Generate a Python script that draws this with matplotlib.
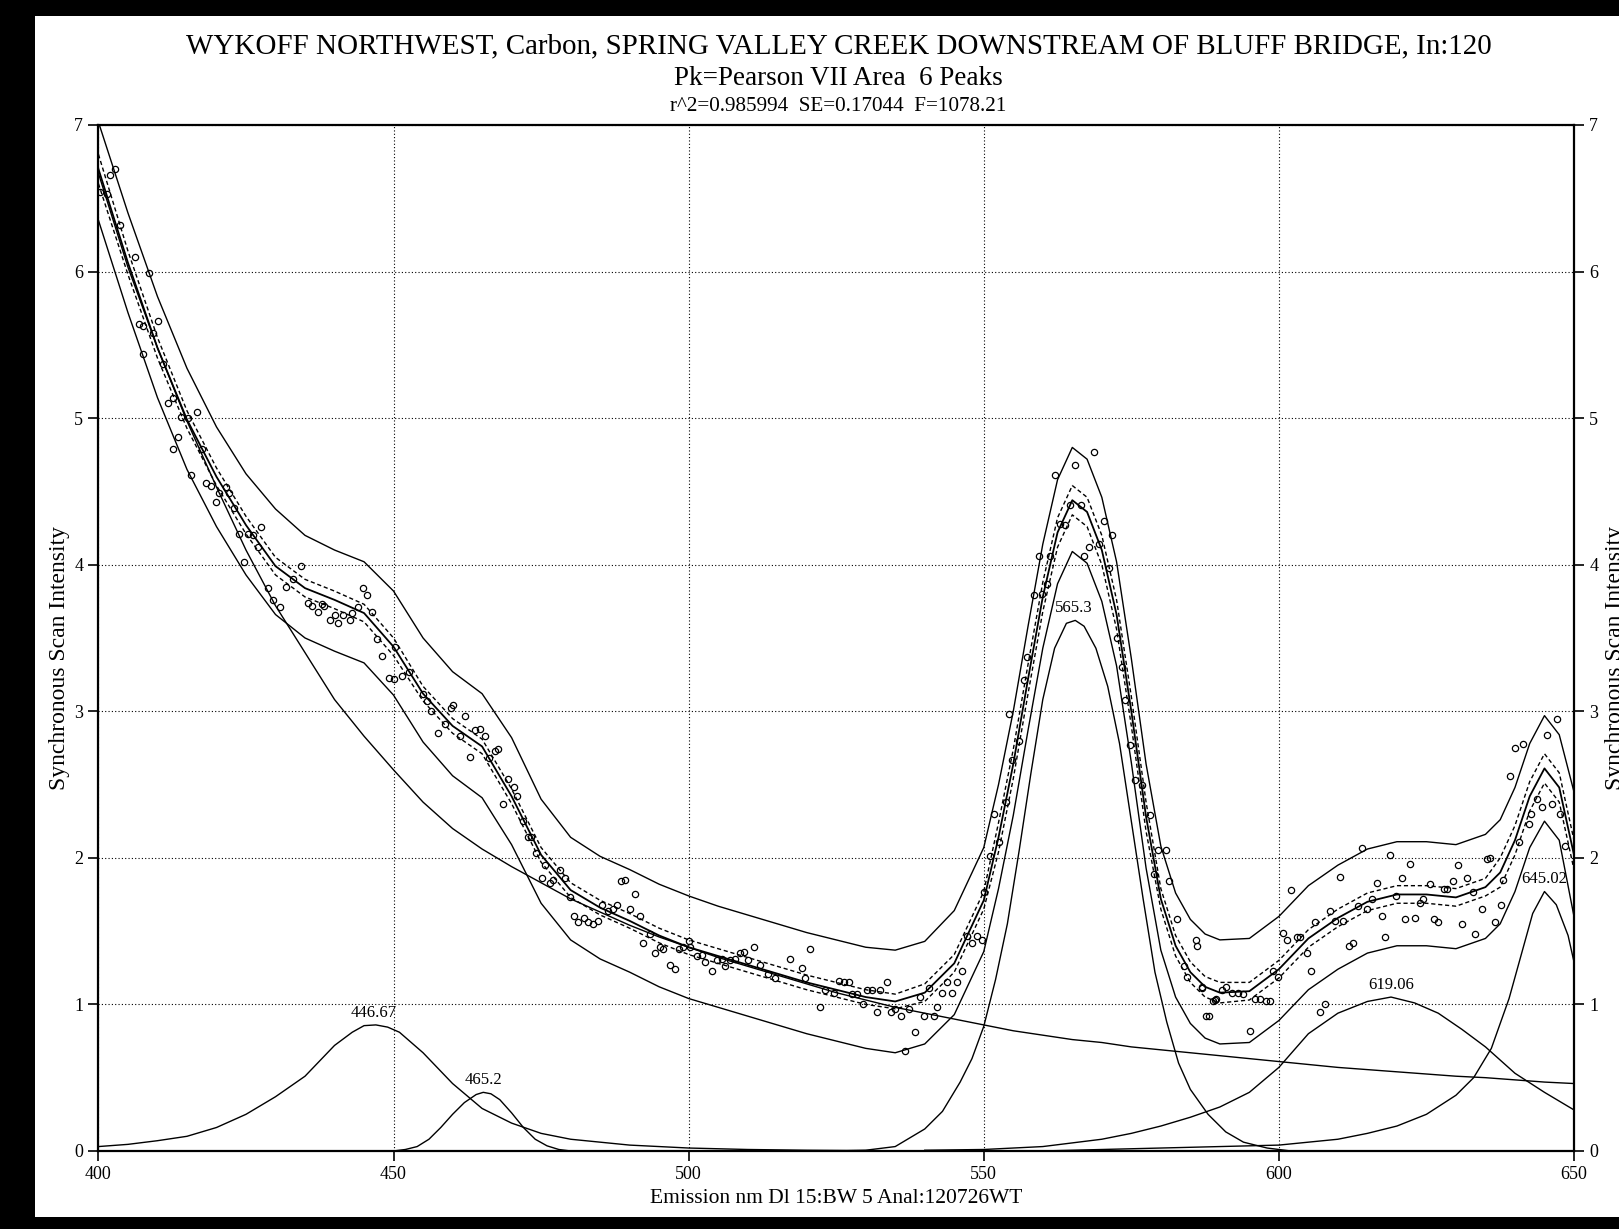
import matplotlib
matplotlib.use('Agg')
import matplotlib.pyplot as plt
from matplotlib.patches import Rectangle

plt.rcParams['font.family'] = ['Liberation Serif', 'DejaVu Serif']

# ---- values ----
TITLE = 'WYKOFF NORTHWEST, Carbon, SPRING VALLEY CREEK DOWNSTREAM OF BLUFF BRIDGE, In:120'
SUBTITLE = 'Pk=Pearson VII Area  6 Peaks'
STATS = 'r^2=0.985994  SE=0.17044  F=1078.21'
XLABEL = 'Emission nm Dl 15:BW 5 Anal:120726WT'
YLABEL = 'Synchronous Scan Intensity'

X_TICKS = [400, 450, 500, 550, 600, 650]
Y_TICKS = [0, 1, 2, 3, 4, 5, 6, 7]

# measured scan (open markers)
PTS_NM = [
    402.8, 402.0, 400.3, 401.5, 403.7, 406.2, 408.5, 406.8, 407.6, 409.3, 410.1, 407.6, 411.0,
    412.7, 411.8, 414.0, 415.2, 416.7, 413.5, 412.7, 417.6, 415.7, 418.2, 419.1, 420.5, 421.6,
    422.2, 419.9, 423.0, 423.9, 425.3, 426.2, 427.6, 427.0, 424.7, 428.7, 429.6, 430.7, 431.8,
    433.0, 434.4, 435.5, 436.1, 437.2, 437.8, 438.3, 439.2, 440.0, 440.6, 441.5, 442.6, 442.9,
    444.0, 444.9, 445.5, 446.3, 447.2, 448.1, 450.3, 449.2, 450.0, 451.4, 452.6,
    455.0, 455.6, 456.4, 457.6, 458.7, 460.1, 459.8, 461.3, 462.1, 463.0, 463.8, 464.6, 465.5,
    466.1, 467.2, 467.7, 469.4, 470.4, 471.0, 468.5, 471.9, 472.8, 473.3, 474.2, 475.7, 478.2,
    475.1, 476.5, 477.1, 479.0, 479.9, 480.5, 481.3, 482.2, 483.0, 483.8, 484.7, 485.3, 486.4,
    487.2, 487.8, 488.6, 489.2, 490.1, 490.9, 491.8, 492.3, 493.5, 494.3, 495.1, 495.7, 496.8,
    497.7, 498.3, 499.1, 500.0, 500.2, 501.4, 502.2, 502.8, 503.9, 504.8, 505.6, 506.2, 507.0,
    507.9, 508.7, 509.3, 510.1, 511.0, 512.1, 513.5, 514.6, 517.2, 519.2, 519.7, 520.6,
    522.3, 523.1, 524.6, 525.4, 526.3, 527.1, 527.7, 528.5, 529.6, 530.2, 531.1, 531.9, 532.5,
    533.6, 534.2, 535.0, 535.9, 536.7, 537.3, 538.4, 539.2, 539.8, 540.7, 541.5, 542.1, 542.9,
    543.8, 544.6, 545.5, 546.3, 547.2, 548.0, 548.9, 549.7, 550.0, 551.1, 551.7, 552.5, 553.7,
    554.8, 555.9, 554.2, 556.8, 557.3, 558.5, 559.3, 559.9, 560.7, 561.3, 562.1, 563.0, 563.8,
    564.6, 565.5, 566.4, 566.9, 567.8, 568.6, 569.5, 570.3, 571.2, 571.7, 572.6, 573.4, 574.0,
    574.8, 575.7, 576.8, 578.2, 579.6, 580.8, 578.8, 581.3, 582.7, 585.9, 586.1, 583.9, 584.4,
    587.0, 588.1, 589.2,
    586.9, 587.7, 588.9, 589.4, 590.3, 591.1, 592.0, 593.1, 594.0, 595.1, 595.9, 596.8, 597.9,
    598.5, 599.0, 599.9, 600.7, 601.3, 602.1, 603.0, 603.6, 604.7, 605.5, 606.1, 606.9, 607.8,
    608.6, 609.5, 610.3, 610.9, 611.8, 612.6, 613.4, 614.0, 614.9, 615.7, 616.6, 617.4, 618.0,
    618.8, 619.9, 620.8, 621.4, 622.2, 623.1, 623.9, 624.5, 625.6, 626.2, 627.0, 627.9, 628.4,
    629.5, 630.4, 631.0, 631.8, 632.9, 633.2, 634.4, 635.2, 635.8, 636.6, 637.7, 638.0, 639.2,
    640.0, 640.6, 641.4, 642.3, 642.8, 643.7, 644.5, 645.4, 646.2, 647.1, 647.6, 648.5,
]
PTS_Y = [
    6.70, 6.66, 6.54, 6.53, 6.32, 6.10, 5.99, 5.64, 5.63, 5.58, 5.66, 5.44, 5.37,
    5.14, 5.10, 5.01, 5.00, 5.04, 4.87, 4.79, 4.79, 4.61, 4.56, 4.54, 4.49, 4.53,
    4.49, 4.43, 4.39, 4.21, 4.21, 4.20, 4.26, 4.12, 4.02, 3.84, 3.76, 3.71, 3.85,
    3.90, 3.99, 3.74, 3.72, 3.68, 3.73, 3.72, 3.62, 3.66, 3.60, 3.66, 3.62, 3.67,
    3.71, 3.84, 3.79, 3.68, 3.49, 3.38, 3.44, 3.23, 3.22, 3.24, 3.27,
    3.12, 3.07, 3.00, 2.85, 2.91, 3.04, 3.02, 2.83, 2.97, 2.69, 2.87, 2.88, 2.83,
    2.68, 2.73, 2.74, 2.54, 2.48, 2.42, 2.37, 2.25, 2.14, 2.14, 2.03, 1.95, 1.92,
    1.86, 1.83, 1.85, 1.86, 1.73, 1.60, 1.56, 1.59, 1.56, 1.55, 1.57, 1.68, 1.64,
    1.65, 1.68, 1.84, 1.85, 1.65, 1.75, 1.60, 1.42, 1.48, 1.35, 1.39, 1.38, 1.27,
    1.24, 1.38, 1.39, 1.43, 1.39, 1.33, 1.34, 1.29, 1.23, 1.30, 1.31, 1.26, 1.30,
    1.31, 1.35, 1.36, 1.30, 1.39, 1.27, 1.21, 1.18, 1.31, 1.25, 1.18, 1.38,
    0.98, 1.10, 1.08, 1.16, 1.15, 1.15, 1.07, 1.07, 1.00, 1.10, 1.10, 0.95, 1.10,
    1.15, 0.95, 0.97, 0.92, 0.68, 0.97, 0.81, 1.05, 0.92, 1.11, 0.92, 0.98, 1.08,
    1.15, 1.08, 1.15, 1.23, 1.47, 1.42, 1.47, 1.44, 1.77, 2.01, 2.30, 2.11, 2.38,
    2.67, 2.80, 2.98, 3.21, 3.37, 3.79, 4.06, 3.80, 3.87, 4.06, 4.61, 4.28, 4.27,
    4.41, 4.68, 4.41, 4.06, 4.12, 4.77, 4.14, 4.30, 3.98, 4.20, 3.50, 3.30, 3.08,
    2.77, 2.53, 2.50, 2.29, 2.05, 2.05, 1.89, 1.84, 1.58, 1.44, 1.40, 1.26, 1.19,
    1.11, 0.92, 1.03,
    1.12, 0.92, 1.02, 1.04, 1.10, 1.12, 1.08, 1.08, 1.07, 0.82, 1.04, 1.04, 1.02,
    1.02, 1.23, 1.19, 1.49, 1.44, 1.78, 1.46, 1.46, 1.35, 1.23, 1.56, 0.95, 1.00,
    1.64, 1.57, 1.87, 1.57, 1.40, 1.42, 1.67, 2.07, 1.65, 1.72, 1.83, 1.60, 1.46,
    2.02, 1.74, 1.86, 1.58, 1.96, 1.59, 1.69, 1.72, 1.82, 1.58, 1.56, 1.79, 1.79,
    1.84, 1.95, 1.55, 1.86, 1.77, 1.48, 1.65, 1.99, 2.00, 1.56, 1.68, 1.85, 2.56,
    2.75, 2.11, 2.78, 2.23, 2.30, 2.40, 2.35, 2.84, 2.37, 2.95, 2.30, 2.08,
]

# fitted curve and its bands
FIT_NM = [400, 405, 410, 415, 420, 425, 430, 435, 440, 445, 450, 455, 460, 465, 470, 475,
          480, 485, 490, 495, 500, 505, 510, 515, 520, 525, 530, 535, 540, 545, 550,
          552.5, 555, 557.5, 560, 562.5, 565, 567.5, 570, 572.5, 575, 577.5, 580, 582.5,
          585, 587.5, 590, 595, 600, 605, 610, 615, 620, 625, 630, 635,
          637.5, 640, 642.5, 645, 647.5, 650]
FIT = [6.70, 6.06, 5.48, 4.99, 4.60, 4.27, 3.99, 3.84, 3.76, 3.67, 3.44, 3.12, 2.90, 2.76,
       2.42, 2.02, 1.78, 1.66, 1.57, 1.47, 1.39, 1.33, 1.27, 1.21, 1.15, 1.10, 1.05, 1.02,
       1.08, 1.28, 1.71,
       2.14, 2.64, 3.22, 3.78, 4.22, 4.44, 4.36, 4.10, 3.66, 3.00, 2.28, 1.72, 1.40, 1.22,
       1.12, 1.08, 1.09, 1.24, 1.45, 1.59, 1.70, 1.75, 1.75, 1.73, 1.80,
       1.90, 2.12, 2.42, 2.61, 2.48, 2.02]
PRED_UP = [7.02, 6.40, 5.83, 5.34, 4.94, 4.62, 4.38, 4.20, 4.10, 4.02, 3.82, 3.50, 3.27, 3.12,
           2.82, 2.40, 2.14, 2.01, 1.92, 1.82, 1.74, 1.67, 1.61, 1.55, 1.49, 1.44, 1.39, 1.37,
           1.43, 1.64, 2.07,
           2.50, 3.00, 3.58, 4.14, 4.58, 4.80, 4.72, 4.46, 4.02, 3.36, 2.64, 2.08, 1.76, 1.58,
           1.48, 1.44, 1.45, 1.60, 1.81, 1.95, 2.06, 2.11, 2.11, 2.09, 2.16,
           2.26, 2.48, 2.78, 2.97, 2.84, 2.45]
PRED_LO = [6.35, 5.72, 5.14, 4.65, 4.26, 3.93, 3.66, 3.50, 3.41, 3.33, 3.11, 2.79, 2.56, 2.41,
           2.09, 1.69, 1.44, 1.31, 1.22, 1.12, 1.04, 0.98, 0.92, 0.86, 0.80, 0.75, 0.70, 0.67,
           0.73, 0.93, 1.36,
           1.79, 2.29, 2.87, 3.43, 3.87, 4.09, 4.01, 3.75, 3.31, 2.65, 1.93, 1.37, 1.05, 0.87,
           0.77, 0.73, 0.74, 0.89, 1.10, 1.24, 1.35, 1.40, 1.40, 1.38, 1.45,
           1.55, 1.77, 2.07, 2.25, 2.12, 1.60]
CONF_UP = [6.80, 6.14, 5.55, 5.05, 4.66, 4.33, 4.05, 3.90, 3.82, 3.73, 3.50, 3.17, 2.95, 2.81,
           2.47, 2.07, 1.83, 1.71, 1.62, 1.52, 1.44, 1.38, 1.32, 1.26, 1.20, 1.15, 1.10, 1.07,
           1.14, 1.34, 1.77,
           2.24, 2.74, 3.32, 3.88, 4.32, 4.54, 4.46, 4.20, 3.76, 3.10, 2.38, 1.79, 1.47, 1.29,
           1.19, 1.15, 1.15, 1.30, 1.51, 1.65, 1.76, 1.81, 1.81, 1.79, 1.86,
           2.00, 2.22, 2.52, 2.71, 2.58, 2.12]
CONF_LO = [6.60, 5.98, 5.41, 4.93, 4.54, 4.21, 3.93, 3.78, 3.70, 3.61, 3.38, 3.07, 2.85, 2.71,
           2.37, 1.97, 1.73, 1.61, 1.52, 1.42, 1.34, 1.28, 1.22, 1.16, 1.10, 1.05, 1.00, 0.97,
           1.02, 1.22, 1.65,
           2.04, 2.54, 3.12, 3.68, 4.12, 4.34, 4.26, 4.00, 3.56, 2.90, 2.18, 1.65, 1.33, 1.15,
           1.05, 1.01, 1.03, 1.18, 1.39, 1.53, 1.64, 1.69, 1.69, 1.67, 1.74,
           1.80, 2.02, 2.32, 2.51, 2.38, 1.92]

# decaying background
BASE_NM = list(range(400, 651, 5))
BASE = [6.67, 6.03, 5.48, 4.98, 4.53, 4.10, 3.72, 3.40, 3.08, 2.83, 2.60, 2.38, 2.20, 2.06,
        1.94, 1.83, 1.72, 1.63, 1.54, 1.46, 1.39, 1.32, 1.26, 1.20, 1.14, 1.08, 1.03, 0.98,
        0.94, 0.90, 0.86, 0.82, 0.79, 0.76, 0.74, 0.71, 0.69, 0.67, 0.65, 0.63, 0.61, 0.59,
        0.57, 0.555, 0.54, 0.525, 0.51, 0.50, 0.485, 0.47, 0.46]

# peak components
P446_NM = [400, 405, 410, 415, 420, 425, 430, 435, 440, 443, 445, 447, 449, 451, 455, 460,
           465, 470, 475, 480, 490, 500, 510, 520, 540, 560]
P446_Y = [0.03, 0.045, 0.07, 0.10, 0.16, 0.25, 0.37, 0.51, 0.72, 0.81, 0.855, 0.86, 0.845,
          0.81, 0.67, 0.46, 0.29, 0.19, 0.12, 0.08, 0.04, 0.02, 0.01, 0.005, 0.0, 0.0]
P465_NM = [450, 452, 454, 456, 458, 460, 462, 464, 465.2, 466.5, 468, 470, 472, 474, 476, 478, 480]
P465_Y = [0.0, 0.01, 0.03, 0.08, 0.16, 0.25, 0.33, 0.385, 0.40, 0.39, 0.35, 0.26, 0.16, 0.08,
          0.035, 0.01, 0.0]
P565_NM = [525, 530, 535, 540, 543, 546, 548, 550, 552, 554, 556, 558, 560, 562, 564, 565.5,
           567, 569, 571, 573, 575, 577, 579, 581, 583, 585, 588, 591, 594, 598, 602]
P565_Y = [0.0, 0.005, 0.03, 0.15, 0.27, 0.47, 0.63, 0.85, 1.17, 1.55, 2.05, 2.58, 3.08, 3.43,
          3.60, 3.62, 3.58, 3.43, 3.17, 2.78, 2.25, 1.72, 1.22, 0.88, 0.60, 0.42, 0.25, 0.13,
          0.06, 0.02, 0.0]
P619_NM = [540, 550, 560, 570, 575, 580, 585, 590, 595, 600, 605, 610, 615, 619, 623, 627,
           631, 635, 640, 645, 650]
P619_Y = [0.005, 0.01, 0.03, 0.08, 0.12, 0.17, 0.23, 0.30, 0.40, 0.57, 0.80, 0.94, 1.02, 1.05,
          1.01, 0.94, 0.83, 0.71, 0.53, 0.40, 0.28]
P645_NM = [560, 570, 580, 590, 600, 605, 610, 615, 620, 625, 630, 633, 636, 639, 641, 643,
           645, 647, 649, 650]
P645_Y = [0.0, 0.01, 0.02, 0.03, 0.04, 0.06, 0.08, 0.12, 0.17, 0.25, 0.38, 0.50, 0.70, 1.04,
          1.33, 1.62, 1.77, 1.68, 1.47, 1.29]

PEAK_LABELS = ['446.67', '465.2', '565.3', '619.06', '645.02']
PEAK_POS = [446.67, 465.2, 565.3, 619.06, 645.02]
PEAK_TOP = [0.86, 0.40, 3.62, 1.05, 1.77]

# ---- figure ----
fig = plt.figure(figsize=(16.19, 12.29), dpi=100, facecolor='black')
fig.patches.append(Rectangle((35 / 1619, 12 / 1229), 1584 / 1619, 1201 / 1229,
                             transform=fig.transFigure, facecolor='white',
                             edgecolor='none', zorder=-10))
ax = fig.add_axes([0.0608, 0.0635, 0.9114, 0.8348])
ax.set_facecolor('white')

k = 'black'
ax.plot(PTS_NM, PTS_Y, 'o', mfc='none', mec=k, ms=4.5, mew=0.9, zorder=3)
ax.plot(FIT_NM, FIT, color=k, lw=1.3)
ax.plot(FIT_NM, PRED_UP, color=k, lw=1.0)
ax.plot(FIT_NM, PRED_LO, color=k, lw=1.0)
ax.plot(FIT_NM, CONF_UP, color=k, lw=1.0, ls=(0, (3, 2)))
ax.plot(FIT_NM, CONF_LO, color=k, lw=1.0, ls=(0, (3, 2)))
ax.plot(BASE_NM, BASE, color=k, lw=1.0)
for nm, y in [(P446_NM, P446_Y), (P465_NM, P465_Y), (P565_NM, P565_Y),
              (P619_NM, P619_Y), (P645_NM, P645_Y)]:
    ax.plot(nm, y, color=k, lw=1.0)

for lab, px, py in zip(PEAK_LABELS, PEAK_POS, PEAK_TOP):
    ax.annotate(lab, (px, py), xytext=(0, 3), textcoords='offset points',
                ha='center', va='bottom', fontsize=12)

ax.set_xlim(400, 650)
ax.set_ylim(0, 7)
ax.set_xticks(X_TICKS)
ax.set_yticks(Y_TICKS)
ax.grid(True, color=k, ls=(0, (1, 2)), lw=0.8)
ax.tick_params(axis='y', which='both', direction='out', length=7, width=1.2,
               labelsize=13, left=True, right=True, labelleft=True, labelright=True, pad=4)
ax.tick_params(axis='x', direction='out', length=7, width=1.2, labelsize=13, pad=4)
for s in ax.spines.values():
    s.set_linewidth(1.6)

ax.set_xlabel(XLABEL, fontsize=15.5, labelpad=4)
ax.set_ylabel(YLABEL, fontsize=17)
ax.yaxis.set_label_coords(-0.019, 0.48)
ax.text(1.0278, 0.48, YLABEL, transform=ax.transAxes, rotation=90, fontsize=17,
        ha='center', va='center', clip_on=False)

fig.text(0.518, 0.9626, TITLE, ha='center', va='center', fontsize=20.9)
fig.text(0.518, 0.9365, SUBTITLE, ha='center', va='center', fontsize=19.5)
fig.text(0.518, 0.9133, STATS, ha='center', va='center', fontsize=15.2)

fig.savefig('out.png', dpi=100, facecolor='black')
